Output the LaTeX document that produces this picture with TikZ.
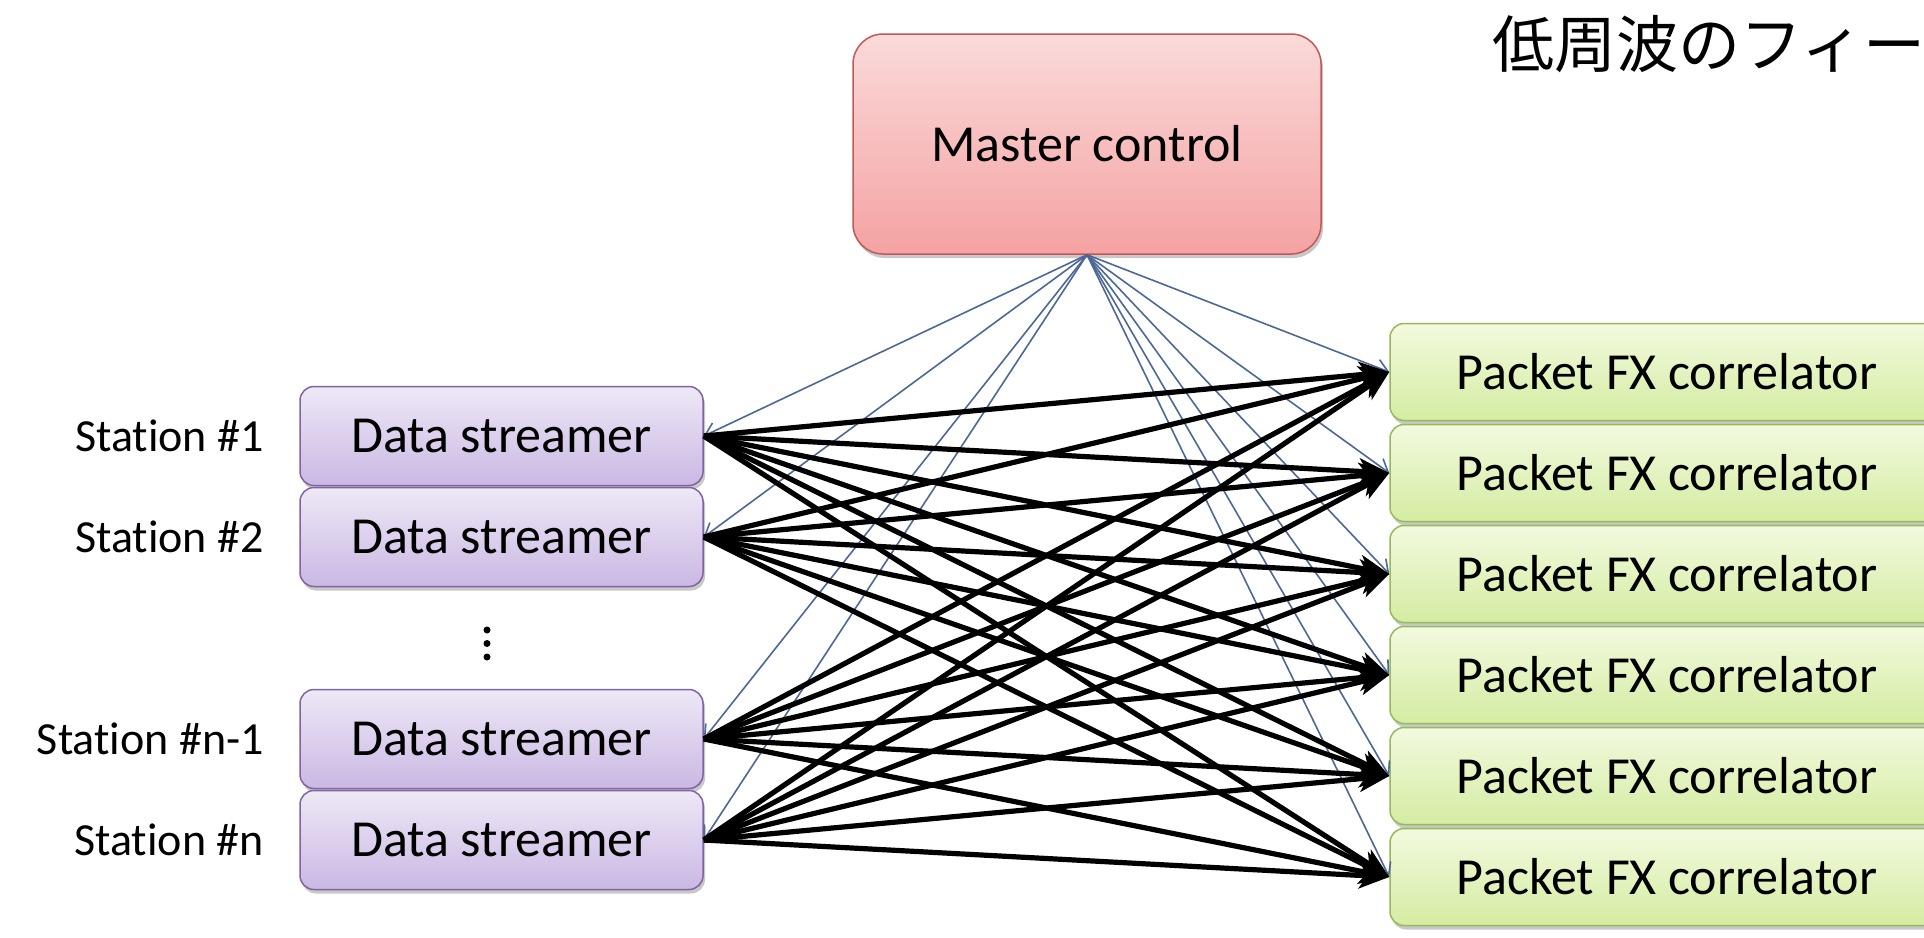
\documentclass[tikz,border=0pt]{standalone}
\usepackage{fontspec}
\setmainfont{Carlito}[Ligatures=CommonOff]
\newfontfamily\cjk{Noto Sans CJK JP}
\usetikzlibrary{arrows.meta,shadows}

\definecolor{mcborder}{RGB}{192,90,88}
\definecolor{mctop}{RGB}{250,218,218}
\definecolor{mcbot}{RGB}{245,162,162}
\definecolor{dsborder}{RGB}{128,100,162}
\definecolor{dstop}{RGB}{238,232,246}
\definecolor{dsbot}{RGB}{202,184,228}
\definecolor{pcborder}{RGB}{150,185,90}
\definecolor{pctop}{RGB}{242,250,222}
\definecolor{pcbot}{RGB}{212,236,162}
\definecolor{ctrl}{RGB}{78,104,150}

\begin{document}
\begin{tikzpicture}[x=1pt,y=-1pt,
  box/.style={rectangle, rounded corners=14pt, line width=1.5pt, inner sep=0pt,
    drop shadow={shadow xshift=2pt, shadow yshift=-4pt, opacity=0.3, fill=black!70}},
  mc/.style={box, rounded corners=30pt, draw=mcborder, top color=mctop, bottom color=mcbot,
    minimum width=468pt, minimum height=220pt, font=\fontsize{52}{62}\selectfont},
  ds/.style={box, draw=dsborder, top color=dstop, bottom color=dsbot,
    minimum width=403pt, minimum height=99pt, font=\fontsize{52}{62}\selectfont},
  pc/.style={box, draw=pcborder, top color=pctop, bottom color=pcbot,
    minimum width=554pt, minimum height=97pt, font=\fontsize{52}{62}\selectfont},
  lbl/.style={anchor=east, inner sep=0pt, font=\fontsize{46}{55}\selectfont},
  ctl/.style={draw=ctrl, line width=1.6pt, -{Straight Barb[length=12pt,width=16pt]}},
  dat/.style={draw=black, line width=5.2pt, -{Stealth[length=30pt,width=26pt,inset=8pt]}}
]
\useasboundingbox (0,0) rectangle (1924,937);
\clip (0,0) rectangle (1924,937);
\fill[white] (0,0) rectangle (1924,937);

% title
\node[anchor=west, inner sep=0pt, font=\cjk\fontsize{62}{70}\selectfont] (title) at (1492,44) {低周波のフィー};

% master
\node[mc] (mc) at (1087,144) {Master control};

% streamers
\node[ds] (ds1) at (501.5,436) {Data streamer};
\node[ds] (ds2) at (501.5,537) {Data streamer};
\node[ds] (ds3) at (501.5,739) {Data streamer};
\node[ds] (ds4) at (501.5,840) {Data streamer};

\node[lbl] (l1) at (264,436) {Station \#1};
\node[lbl] (l2) at (264,537) {Station \#2};
\node[lbl] (l3) at (264,739) {Station \#n-1};
\node[lbl] (l4) at (264,840) {Station \#n};

\fill (487,630) circle (3.5pt) (487,643.5) circle (3.5pt) (487,657) circle (3.5pt);

% correlators
\foreach \i/\y in {1/372,2/473,3/574,4/675,5/776,6/877}{
  \node[pc] (pc\i) at (1667,\y) {Packet FX correlator};
}

% control lines
\foreach \s in {ds1,ds2,ds3,ds4}{
  \draw[ctl] (mc.south) -- (\s.east);
}
\foreach \i in {1,...,6}{
  \draw[ctl] (mc.south) -- (pc\i.west);
}

% data lines
\foreach \s in {ds1,ds2,ds3,ds4}{
  \foreach \i in {1,...,6}{
    \draw[dat] (\s.east) -- (pc\i.west);
  }
}
\end{tikzpicture}
\end{document}
